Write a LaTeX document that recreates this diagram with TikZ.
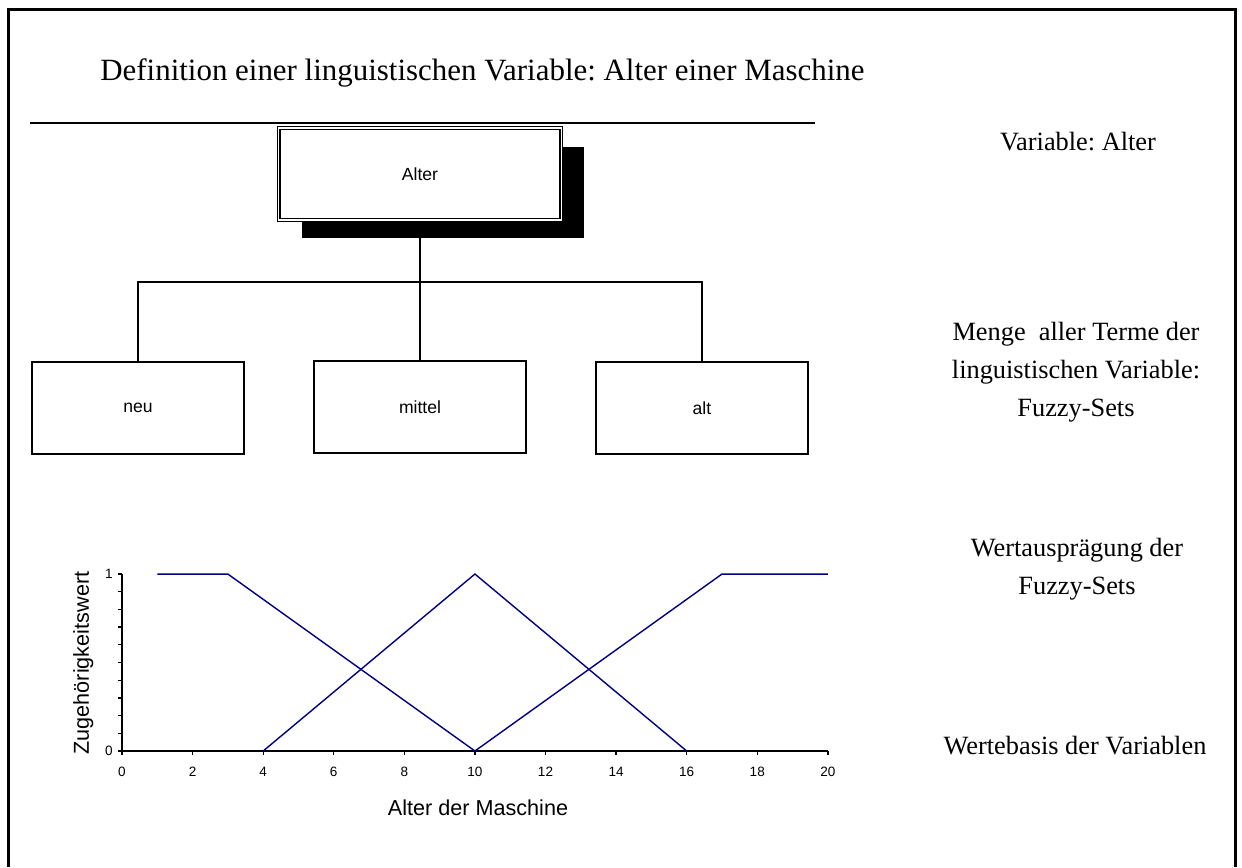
\documentclass[tikz,border=0pt]{standalone}
\usepackage{fontspec}
\setmainfont{Liberation Serif}
\setsansfont{Liberation Sans}
\usetikzlibrary{shadows}
\frenchspacing
\definecolor{setblue}{RGB}{0,0,128}
\tikzstyle{frame} = [line width=1.7pt]
\tikzstyle{tree} = [line width=0.75pt]
\tikzstyle{box} = [draw,line width=0.75pt,minimum width=4.24cm,minimum height=1.84cm,font=\sffamily\fontsize{10}{12}\selectfont]
\tikzstyle{varbox} = [box,double,double distance=1.1pt,line width=0.6pt,minimum width=5.66cm,fill=white,drop shadow={shadow xshift=0.46cm,shadow yshift=-0.37cm,fill=black,opacity=1}]
\tikzstyle{curve} = [setblue,line width=0.8pt]
\tikzstyle{note} = [align=center,font=\fontsize{15}{21.5}\selectfont]
\tikzstyle{tick} = [inner sep=0pt,font=\sffamily\fontsize{7.7}{9}\selectfont]
\tikzstyle{axislabel} = [inner sep=0pt,font=\sffamily\fontsize{12.3}{14}\selectfont]

\begin{document}
\begin{tikzpicture}[x=0.02cm,y=-0.02cm]
        \useasboundingbox (0,0) rectangle (1242,867);
        \draw[frame] (8.5,867) -- (8.5,9.5) -- (1235,9.5) -- (1235,867);

        \node[anchor=base west,inner sep=0pt,font=\fontsize{17.6}{20}\selectfont] at (100,80) (title) {Definition einer linguistischen Variable: Alter einer Maschine};
        \draw[line width=1.6pt] (30,123) -- (815,123);

        \node[varbox] at (420,174) (alter) {Alter};
        \node[box] at (138,408) (neu) {neu};
        \node[box] at (420,407) (mittel) {mittel};
        \node[box] at (702,408) (alt) {alt};
        \coordinate (fork) at (420,282);

        \draw[tree] (alter.south) -- (fork);
        \draw[tree] (neu.north) |- (fork) -| (alt.north);
        \draw[tree] (fork) -- (mittel.north);

        \node[note] at (1078,142) (varnote) {Variable: Alter};
        \node[note] at (1076,372) (termnote) {Menge\ \ aller Terme der\\linguistischen Variable:\\Fuzzy-Sets};
        \node[note] at (1077,569) (valnote) {Wertausprägung der\\Fuzzy-Sets};
        \node[note] at (1075,746) (basenote) {Wertebasis der Variablen};

        \begin{scope}[shift={(122,751)},x=0.706cm,y=3.54cm]
            \draw[tree] (0,1) -- (0,0) -- (20,0);
            \foreach \t in {0,2,...,20} {
                \draw[tree] (\t,0) -- (\t,-0.023);
                \node[tick] at (\t,0) [yshift=-0.42cm] (xt\t) {\t};
            }
            \foreach \v in {0,0.1,...,1.05}
                \draw[tree] (0,\v) -- (-0.113,\v);
            \node[tick,anchor=east] at (0,0) [xshift=-0.18cm] (yt0) {0};
            \node[tick,anchor=east] at (0,1) [xshift=-0.18cm] (yt1) {1};

            \draw[curve] (1,1) -- (3,1) -- (10,0);
            \draw[curve] (4,0) -- (10,1) -- (16,0);
            \draw[curve] (10,0) -- (17,1) -- (20,1);
        \end{scope}

        \node[axislabel,rotate=90,anchor=base] at (89,663) (ylabel) {Zugehörigkeitswert};
        \node[axislabel,anchor=base] at (478,815) (xlabel) {Alter der Maschine};
    \end{tikzpicture}
\end{document}
